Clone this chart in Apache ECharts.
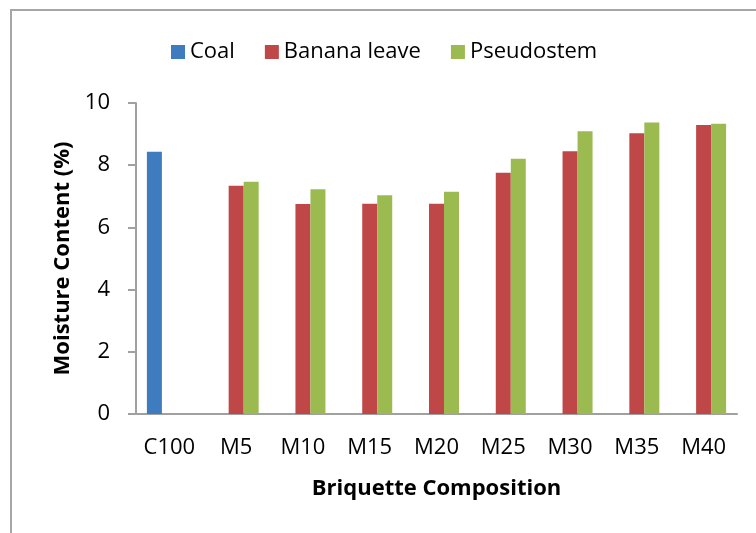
<!DOCTYPE html>
<html>
<head>
<meta charset="utf-8">
<script src="https://cdn.jsdelivr.net/npm/echarts@6/dist/echarts.min.js"></script>
<style>
  html, body { margin: 0; padding: 0; background: #fff; }
  #chart { width: 756px; height: 533px; }
</style>
</head>
<body>
<div id="chart"></div>
<script>
var categories = ['C100', 'M5', 'M10', 'M15', 'M20', 'M25', 'M30', 'M35', 'M40'];
var coal = [8.43, null, null, null, null, null, null, null, null];
var bananaLeave = [null, 7.34, 6.75, 6.76, 6.76, 7.76, 8.45, 9.03, 9.29];
var pseudostem = [null, 7.47, 7.23, 7.03, 7.15, 8.21, 9.09, 9.37, 9.33];

var font = 'Open Sans';
var axisGray = '#a0a0a0';

var myChart = echarts.init(document.getElementById('chart'));

var option = {
  backgroundColor: '#fff',
  animation: false,
  graphic: [{
    type: 'rect',
    shape: { x: 11, y: 10, width: 800, height: 600 },
    style: { fill: 'none', stroke: '#a6a6a6', lineWidth: 2 }
  }],
  legend: {
    left: 166,
    top: 36,
    itemWidth: 14,
    itemHeight: 14,
    itemGap: 30,
    icon: 'rect',
    textStyle: { fontFamily: font, fontSize: 22, color: '#000' },
    data: ['Coal', 'Banana leave', 'Pseudostem']
  },
  grid: { left: 136, right: 19, top: 103, bottom: 119 },
  xAxis: {
    type: 'category',
    data: categories,
    name: 'Briquette Composition',
    nameLocation: 'middle',
    nameGap: 64,
    nameTextStyle: { fontFamily: font, fontSize: 22, fontWeight: 'bold', color: '#000' },
    axisLine: { lineStyle: { color: axisGray, width: 2 } },
    axisTick: { length: 8, lineStyle: { color: axisGray, width: 2 } },
    axisLabel: { interval: 0, fontFamily: font, fontSize: 22, color: '#000', margin: 23 }
  },
  yAxis: {
    type: 'value',
    min: 0,
    max: 10,
    interval: 2,
    name: 'Moisture Content (%)',
    nameLocation: 'middle',
    nameGap: 62,
    nameTextStyle: { fontFamily: font, fontSize: 22, fontWeight: 'bold', color: '#000' },
    axisLine: { show: true, lineStyle: { color: axisGray, width: 2 } },
    axisTick: { show: true, length: 8, lineStyle: { color: axisGray, width: 2 } },
    splitLine: { show: false },
    axisLabel: { fontFamily: font, fontSize: 22, color: '#000', margin: 26 }
  },
  series: [
    {
      name: 'Coal',
      type: 'bar',
      barWidth: 15,
      barGap: '0%',
      itemStyle: { color: '#3E7CBF' },
      data: coal
    },
    {
      name: 'Banana leave',
      type: 'bar',
      barWidth: 15,
      barGap: '0%',
      itemStyle: { color: '#C04747' },
      data: bananaLeave
    },
    {
      name: 'Pseudostem',
      type: 'bar',
      barWidth: 15,
      barGap: '0%',
      itemStyle: { color: '#9BBB50' },
      data: pseudostem
    }
  ]
};

myChart.setOption(option);
</script>
</body>
</html>
